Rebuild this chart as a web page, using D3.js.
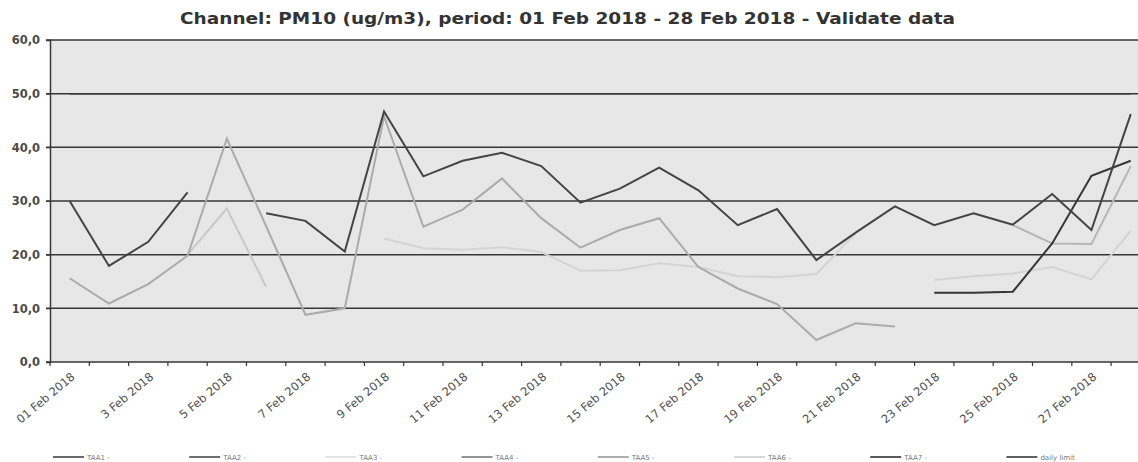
<!DOCTYPE html>
<html>
<head>
<meta charset="utf-8">
<script src="https://cdn.jsdelivr.net/npm/d3@7"></script>
<style>
  body { margin: 0; background: #ffffff; }
  svg { display: block; font-family: "DejaVu Sans", Verdana, sans-serif; }
</style>
</head>
<body>
<div id="chart"></div>
<script>
// Data
const days = d3.range(1, 29);
const yTicks = [0, 10, 20, 30, 40, 50, 60];
const seriesNames = ["TAA1 -", "TAA2 -", "TAA3 -", "TAA4 -", "TAA5 -", "TAA6 -", "TAA7 -", "daily limit"];

const taa1 = [30.0, 17.9, 22.4, 31.6, null, 27.7, 26.3, 20.6, 46.7, 34.6, 37.5, 39.0, 36.5, 29.7,
  32.3, 36.2, 32.0, 25.5, 28.5, 19.0, 24.1, 29.0, 25.5, 27.7, 25.6, 31.3, 24.6, 46.2];
const taa2 = days.map(() => null);
const taa3 = [null, null, null, null, null, null, null, null, 23.0, 21.2, 20.9, 21.4, 20.5, 17.0,
  17.1, 18.4, 17.7, 16.0, 15.8, 16.4, 24.0, null, 15.3, 16.0, 16.5, 17.7, 15.4, 24.5];
const taa4 = [null, null, null, null, null, null, null, null, null, null, null, null, null, null,
  null, null, null, null, null, null, null, null, null, 27.7, 25.5, 22.1, 22.0, 36.5];
const taa5 = [15.6, 10.9, 14.5, 19.8, 41.6, 25.3, 8.8, 10.0, 45.8, 25.2, 28.4, 34.2, 26.8, 21.3,
  24.6, 26.8, 17.7, 13.7, 10.8, 4.1, 7.2, 6.6, null, null, null, null, null, null];
const taa6 = [null, null, null, 20.0, 28.6, 14.0, null, null, null, null, null, null, null, null,
  null, null, null, null, null, null, null, null, null, null, null, null, null, null];
const taa7 = [null, null, null, null, null, null, null, null, null, null, null, null, null, null,
  null, null, null, null, null, null, null, null, 12.9, 12.9, 13.1, 22.1, 34.7, 37.5];
const dailyLimit = days.map(() => 50);

const seriesValues = [taa1, taa2, taa3, taa4, taa5, taa6, taa7, dailyLimit];
const lineColors = ["#444444", "#4a4a4a", "#d4d4d4", "#b6b6b6", "#ababab", "#c8c8c8", "#363636", "#383838"];
const legendColors = ["#454545", "#4a4a4a", "#dedede", "#7a7a7a", "#9a9a9a", "#cfcfcf", "#303030", "#3a3a3a"];

// Dimensions
const width = 1138;
const height = 462;
const margin = { top: 40, left: 50, bottom: 362 };

const svg = d3
  .select("#chart")
  .append("svg")
  .attr("width", width)
  .attr("height", height);

// Scales
const x = d3
  .scaleBand()
  .domain(days)
  .range([margin.left, margin.left + 28 * 39.3]);

const y = d3.scaleLinear().domain([0, 60]).range([margin.bottom, margin.top]);

// Plot Background
svg
  .append("rect")
  .attr("x", margin.left)
  .attr("y", y(60))
  .attr("width", width - margin.left)
  .attr("height", y(0) - y(60))
  .attr("fill", "#e7e7e7");

// Title
svg
  .append("text")
  .attr("x", 180)
  .attr("y", 24)
  .attr("textLength", 775)
  .attr("lengthAdjust", "spacingAndGlyphs")
  .style("font-size", "15px")
  .style("font-weight", "bold")
  .attr("fill", "#333")
  .text("Channel: PM10 (ug/m3), period: 01 Feb 2018 - 28 Feb 2018 - Validate data");

// Horizontal Grid
svg
  .append("g")
  .selectAll("line")
  .data(yTicks)
  .enter()
  .append("line")
  .attr("x1", margin.left - 4)
  .attr("x2", width)
  .attr("y1", (d) => y(d))
  .attr("y2", (d) => y(d))
  .attr("stroke", "#363636")
  .attr("stroke-width", 1.5);

// Y Axis
const yAxis = svg
  .append("g")
  .attr("transform", `translate(${margin.left},0)`)
  .call(
    d3
      .axisLeft(y)
      .tickValues(yTicks)
      .tickSize(4)
      .tickFormat((d) => d3.format(".1f")(d).replace(".", ","))
  );
yAxis.select(".domain").attr("stroke", "#363636").attr("stroke-width", 1.5);
yAxis.selectAll(".tick line").attr("stroke", "#363636");
yAxis
  .selectAll(".tick text")
  .attr("x", -10)
  .style("font-size", "11.5px")
  .style("font-weight", "bold")
  .style("font-family", "DejaVu Sans, Verdana, sans-serif")
  .attr("fill", "#4a4a4a");

// X Ticks at day boundaries
const boundaries = days.map((d) => x(d)).concat([x(28) + x.bandwidth()]);
svg
  .append("g")
  .selectAll("line")
  .data(boundaries)
  .enter()
  .append("line")
  .attr("x1", (d) => d)
  .attr("x2", (d) => d)
  .attr("y1", y(0))
  .attr("y2", y(0) + 4)
  .attr("stroke", "#363636")
  .attr("stroke-width", 1.2);

// X Labels (every second day)
svg
  .append("g")
  .selectAll("text")
  .data(days.filter((d) => d % 2 === 1))
  .enter()
  .append("text")
  .attr("transform", (d) => `translate(${x(d) + x.bandwidth() / 2 + 6},${y(0) + 16}) rotate(-40)`)
  .attr("text-anchor", "end")
  .style("font-size", "11.5px")
  .attr("fill", "#505050")
  .text((d) => (d === 1 ? "01" : d) + " Feb 2018");

// Lines
const line = d3
  .line()
  .defined((d) => d.v !== null)
  .x((d) => x(d.day) + x.bandwidth() / 2)
  .y((d) => y(d.v));

const drawOrder = [7, 2, 5, 3, 4, 6, 1, 0];
drawOrder.forEach((i) => {
  const pts = days.map((day, j) => ({ day: day, v: seriesValues[i][j] }));
  svg
    .append("path")
    .datum(pts)
    .attr("d", line)
    .attr("fill", "none")
    .attr("stroke", lineColors[i])
    .attr("stroke-width", i === 7 ? 1.5 : 2)
    .attr("stroke-linejoin", "miter");
});

// Legend
const legend = svg
  .append("g")
  .selectAll("g")
  .data(seriesNames)
  .enter()
  .append("g")
  .attr("transform", (_, i) => `translate(${53 + i * 136.2},457)`);

legend
  .append("line")
  .attr("x1", 0)
  .attr("x2", 31)
  .attr("stroke", (_, i) => legendColors[i])
  .attr("stroke-width", 1.6);

legend
  .append("text")
  .attr("x", 34)
  .attr("y", 2.5)
  .style("font-size", "7px")
  .attr("fill", "#777")
  .text((d) => d);
</script>
</body>
</html>
